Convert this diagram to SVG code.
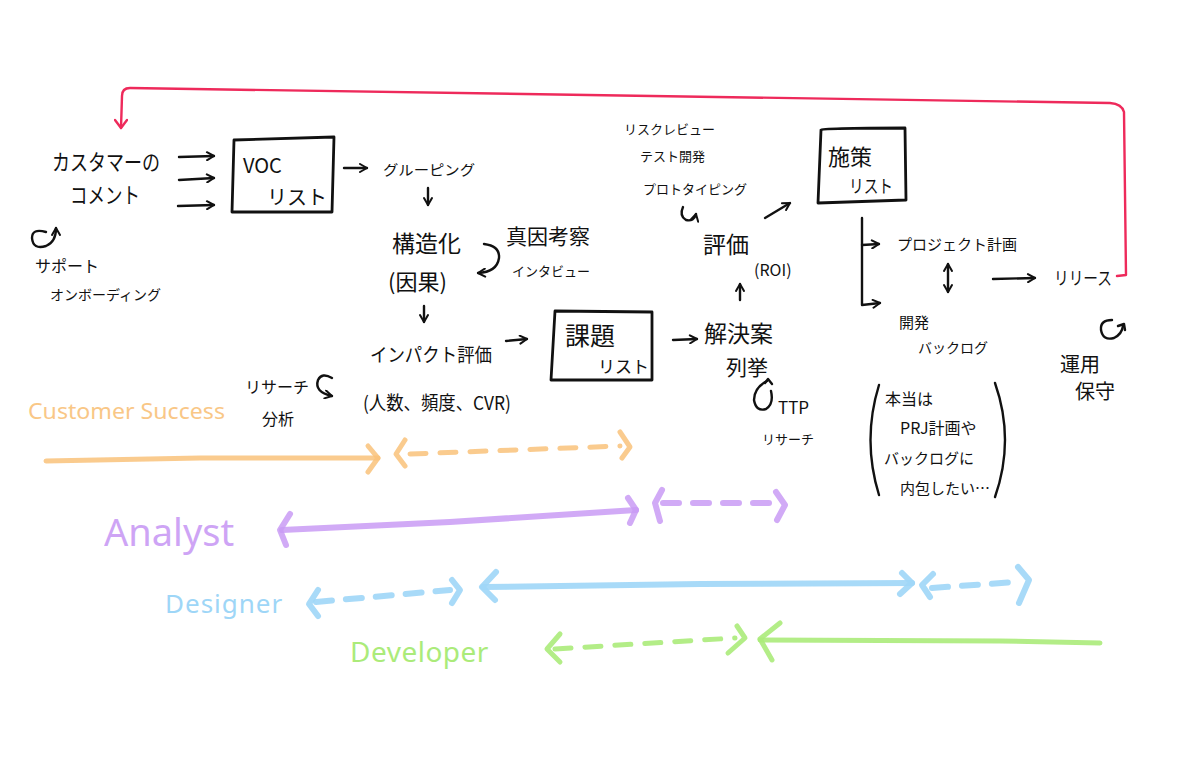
<svg xmlns="http://www.w3.org/2000/svg" width="1194" height="770" viewBox="0 0 1194 770">
<style>
.t{font-family:"Noto Sans CJK JP","Noto Sans",sans-serif;fill:#111;}
.s{fill:none;stroke:#111;stroke-width:2.4;stroke-linecap:round;stroke-linejoin:round;}
.box{fill:none;stroke:#111;stroke-width:2.8;stroke-linecap:round;stroke-linejoin:round;}
.role{font-family:"Noto Sans","DejaVu Sans",sans-serif;}
.or{stroke:#F9C27A;fill:none;stroke-width:5;stroke-linecap:round;stroke-linejoin:round;opacity:0.85;}
.pu{stroke:#C99BF5;fill:none;stroke-width:6;stroke-linecap:round;stroke-linejoin:round;opacity:0.85;}
.bl{stroke:#9ED6F7;fill:none;stroke-width:6;stroke-linecap:round;stroke-linejoin:round;opacity:0.9;}
.gr{stroke:#ABEB7A;fill:none;stroke-width:5;stroke-linecap:round;stroke-linejoin:round;opacity:0.9;}
.dash{stroke-dasharray:16 14;}
</style>
<defs>
<marker id="ah" viewBox="0 0 10 10" refX="9" refY="5" markerWidth="10" markerHeight="10" markerUnits="userSpaceOnUse" orient="auto-start-reverse">
<path d="M2,1 L9,5 L2,9" fill="none" stroke="#111" stroke-width="2" stroke-linecap="round" stroke-linejoin="round"/>
</marker>
<marker id="ahr" viewBox="0 0 14 14" refX="7" refY="12" markerWidth="14" markerHeight="14" markerUnits="userSpaceOnUse" orient="0">
<path d="M1,4 L7,12 L13,4" fill="none" stroke="#EE2A5B" stroke-width="2.4" stroke-linecap="round" stroke-linejoin="round"/>
</marker>
</defs>
<rect width="1194" height="770" fill="#fff"/>

<g id="connectors">
<path d="M1117,276 L1126,275 L1124,112 Q1122,104 1110,103 L130,88 Q122,88 122,96 L121,128" fill="none" stroke="#EE2A5B" stroke-width="2.4" stroke-linecap="round" stroke-linejoin="round" marker-end="url(#ahr)"/>
<path class="s" d="M179,157 L214,156" marker-end="url(#ah)"/>
<path class="s" d="M179,180 L214,178" marker-end="url(#ah)"/>
<path class="s" d="M178,206 L214,205" marker-end="url(#ah)"/>
<path class="s" d="M344,168 L367,168" marker-end="url(#ah)"/>
<path class="s" d="M428,188 L428,205" marker-end="url(#ah)"/>
<path class="s" d="M424,306 L424,322" marker-end="url(#ah)"/>
<path class="s" d="M506,341 L527,339" marker-end="url(#ah)"/>
<path class="s" d="M673,340 L697,339" marker-end="url(#ah)"/>
<path class="s" d="M740,300 L740,284" marker-end="url(#ah)"/>
<path class="s" d="M765,218 L790,203" marker-end="url(#ah)"/>
<path class="s" d="M862,218 L862,305 L880,303" marker-end="url(#ah)"/>
<path class="s" d="M862,245 L879,244" marker-end="url(#ah)"/>
<path class="s" d="M948,264 L948,292" marker-end="url(#ah)" marker-start="url(#ah)"/>
<path class="s" d="M993,279 L1035,278" marker-end="url(#ah)"/>
<path class="s" d="M484,244 Q500,246 499,258 Q497,272 478,273" marker-end="url(#ah)"/>
<path class="s" d="M332,378 Q322,372 318,380 Q314,392 332,396" marker-end="url(#ah)"/>
<path class="s" d="M46,232 Q32,228 32,238 Q33,250 46,246 Q56,242 56,228" marker-end="url(#ah)"/>
<path class="s" d="M683,207 Q679,216 686,220 Q694,222 696,214" marker-end="url(#ah)"/>
<path class="s" d="M767,381 Q754,388 754,400 Q756,412 766,409 Q774,404 771,391"/>
<path class="s" d="M765,383 L768,379 L772,384"/>
<path class="s" d="M1112,320 Q1100,320 1101,330 Q1103,341 1114,338 Q1122,334 1123,326"/>
<path class="s" d="M1118,326 L1124,324 L1125,330"/>
</g>

<g id="customer-comment">
<text class="t" x="52" y="170" font-size="22" textLength="108" lengthAdjust="spacingAndGlyphs">カスタマーの</text>
<text class="t" x="70" y="203" font-size="22" textLength="70" lengthAdjust="spacingAndGlyphs">コメント</text>
</g>
<g id="support">
<text class="t" x="35" y="272" font-size="16">サポート</text>
<text class="t" x="50" y="300" font-size="14">オンボーディング</text>
</g>
<g id="voc-list">
<path class="box" d="M234,140 L334,137 L332,212 L232,212 Z"/>
<text class="t" x="243" y="173" font-size="20">VOC</text>
<text class="t" x="267" y="205" font-size="20">リスト</text>
</g>
<g id="grouping">
<text class="t" x="383" y="175" font-size="14" textLength="92" lengthAdjust="spacingAndGlyphs">グルーピング</text>
</g>
<g id="structuring">
<text class="t" x="392" y="252" font-size="23">構造化</text>
<text class="t" x="388" y="290" font-size="22">(因果)</text>
</g>
<g id="root-cause">
<text class="t" x="506" y="244" font-size="21">真因考察</text>
<text class="t" x="512" y="276" font-size="13">インタビュー</text>
</g>
<g id="impact">
<text class="t" x="370" y="362" font-size="19" textLength="122" lengthAdjust="spacingAndGlyphs">インパクト評価</text>
<text class="t" x="363" y="410" font-size="19" textLength="148" lengthAdjust="spacingAndGlyphs">(人数、頻度、CVR)</text>
</g>
<g id="research-analysis">
<text class="t" x="245" y="393" font-size="16">リサーチ</text>
<text class="t" x="262" y="425" font-size="16">分析</text>
</g>
<g id="issue-list">
<path class="box" d="M555,311 L652,312 L652,380 L551,380 Z"/>
<text class="t" x="565" y="345" font-size="25">課題</text>
<text class="t" x="598" y="373" font-size="17">リスト</text>
</g>
<g id="solutions">
<text class="t" x="704" y="342" font-size="23">解決案</text>
<text class="t" x="726" y="375" font-size="21">列挙</text>
</g>
<g id="ttp">
<text class="t" x="778" y="414" font-size="17">TTP</text>
<text class="t" x="762" y="444" font-size="13">リサーチ</text>
</g>
<g id="evaluation">
<text class="t" x="703" y="253" font-size="23">評価</text>
<text class="t" x="754" y="276" font-size="16">(ROI)</text>
</g>
<g id="prototyping">
<text class="t" x="624" y="134" font-size="13">リスクレビュー</text>
<text class="t" x="640" y="161" font-size="13">テスト開発</text>
<text class="t" x="643" y="194" font-size="13">プロトタイピング</text>
</g>
<g id="measure-list">
<path class="box" d="M821,130 Q822,128 905,128 L906,200 L818,203 Z"/>
<text class="t" x="828" y="165" font-size="22">施策</text>
<text class="t" x="849" y="193" font-size="18" textLength="44" lengthAdjust="spacingAndGlyphs">リスト</text>
</g>
<g id="project-plan">
<text class="t" x="897" y="250" font-size="15">プロジェクト計画</text>
</g>
<g id="backlog">
<text class="t" x="899" y="328" font-size="15">開発</text>
<text class="t" x="918" y="353" font-size="14">バックログ</text>
</g>
<g id="release">
<text class="t" x="1054" y="285" font-size="18" textLength="58" lengthAdjust="spacingAndGlyphs">リリース</text>
</g>
<g id="ops">
<text class="t" x="1060" y="372" font-size="20">運用</text>
<text class="t" x="1075" y="399" font-size="20">保守</text>
</g>
<g id="note">
<path class="s" d="M879,385 Q862,440 879,495"/>
<path class="s" d="M995,383 Q1015,440 995,497"/>
<text class="t" x="885" y="405" font-size="16">本当は</text>
<text class="t" x="900" y="434" font-size="16">PRJ計画や</text>
<text class="t" x="884" y="464" font-size="15">バックログに</text>
<text class="t" x="900" y="494" font-size="15">内包したい…</text>
</g>

<g id="role-customer-success">
<text class="role" x="28" y="419" font-size="22" fill="#F9C27A" opacity="0.9" textLength="197" lengthAdjust="spacingAndGlyphs">Customer Success</text>
<path class="or" d="M46,461 L200,458 L378,458"/>
<path class="or" d="M368,446 L378,458 L368,472"/>
<path class="or dash" d="M410,454 L620,446"/>
<path class="or" d="M405,440 L396,454 L405,466"/>
<path class="or" d="M620,432 L630,447 L622,458"/>
</g>
<g id="role-analyst">
<text class="role" x="104" y="546" font-size="38" fill="#C99BF5" opacity="0.9">Analyst</text>
<path class="pu" d="M282,530 L450,522 L636,510"/>
<path class="pu" d="M290,514 L280,530 L286,545"/>
<path class="pu" d="M628,498 L636,510 L630,523"/>
<path class="pu dash" d="M663,503 L775,503"/>
<path class="pu" d="M662,490 L655,503 L660,521"/>
<path class="pu" d="M776,492 L785,505 L777,520"/>
</g>
<g id="role-designer">
<text class="role" x="165" y="613" font-size="26" fill="#9ED6F7" letter-spacing="1">Designer</text>
<path class="bl dash" d="M316,602 L450,590"/>
<path class="bl" d="M318,590 L309,604 L318,616"/>
<path class="bl" d="M452,580 L460,590 L452,603"/>
<path class="bl" d="M483,587 L700,584 L912,583"/>
<path class="bl" d="M496,572 L482,587 L495,600"/>
<path class="bl" d="M902,573 L912,583 L900,594"/>
<path class="bl dash" d="M932,588 L1015,582"/>
<path class="bl" d="M933,574 L922,585 L930,597"/>
<path class="bl" d="M1018,567 L1029,580 L1019,603"/>
</g>
<g id="role-developer">
<text class="role" x="350" y="662" font-size="28" fill="#ABEB7A" letter-spacing="0.5">Developer</text>
<path class="gr dash" d="M555,649 L735,638"/>
<path class="gr" d="M560,634 L547,649 L560,662"/>
<path class="gr" d="M737,626 L745,638 L728,653"/>
<path class="gr" d="M760,640 L1000,641 L1100,643"/>
<path class="gr" d="M780,623 L760,639 L772,660"/>
</g>
</svg>
